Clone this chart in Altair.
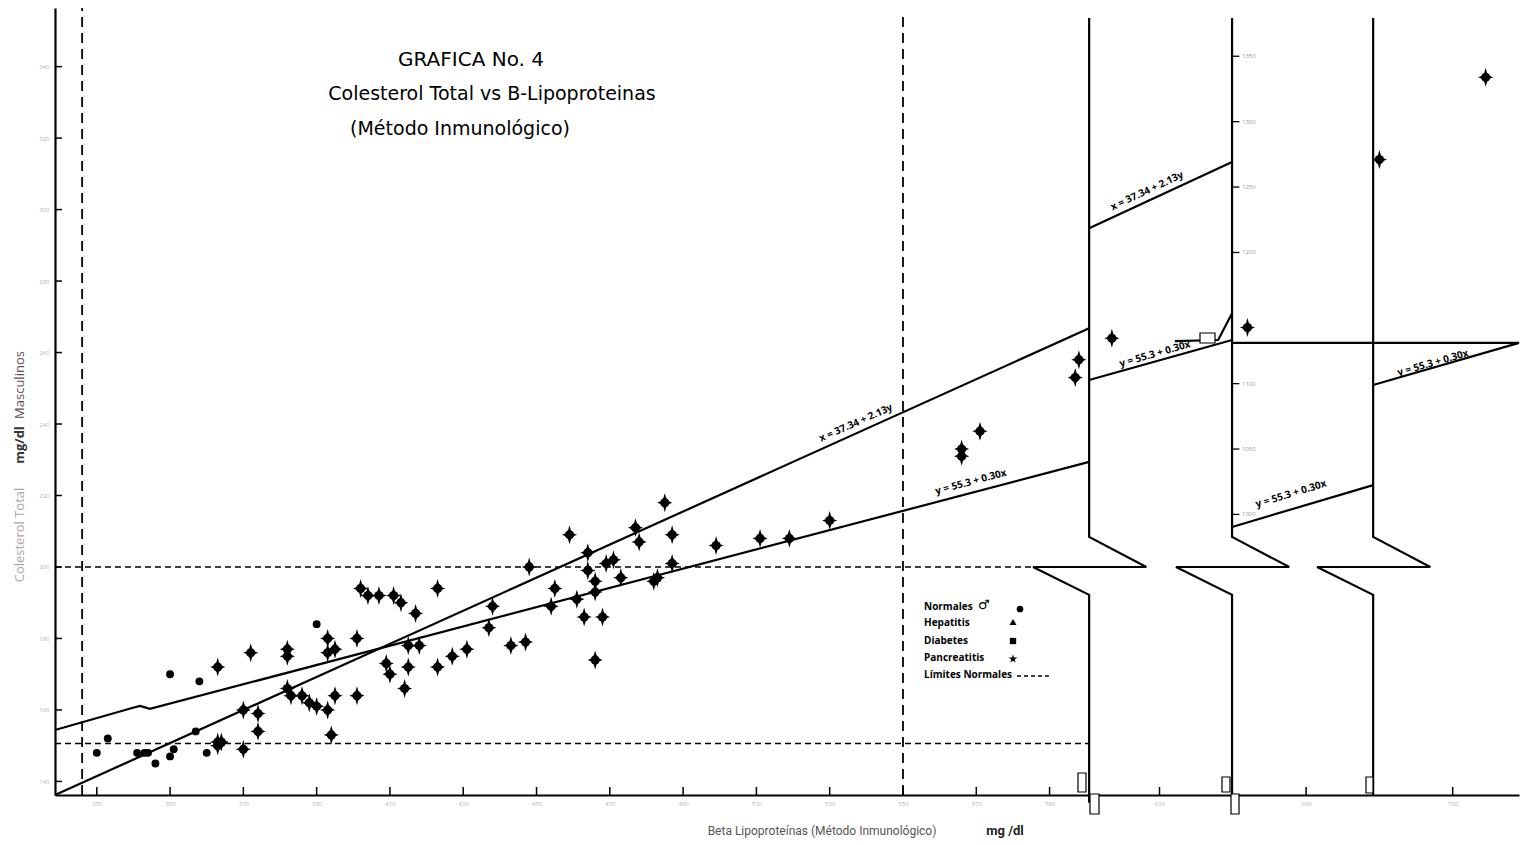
import altair as alt
import pandas as pd

# ---------------- data ----------------
# Beta-lipoproteinas (mg/dl) and Colesterol total (mg/dl)
beta = [330, 333, 341, 343, 344, 346, 350, 351, 357, 360, 363, 364, 363, 370, 370, 374, 374,
        350, 358, 363, 372, 382, 382, 390, 393, 393, 395, 382, 383, 386, 388, 390, 393, 395,
        394, 401, 401, 402, 404, 407, 411, 413, 417, 423, 409, 410, 415, 418, 415, 414, 423,
        427, 431, 438, 437, 443, 447, 448, 454, 455, 459, 461, 464, 464, 463, 466, 466, 468,
        466, 469, 471, 473, 477, 478, 482, 483, 485, 487, 487, 499, 511, 519, 530, 566, 566,
        571, 597, 598, 607, 644, 680, 709]
chol = [148, 152, 148, 148, 148, 145, 147, 149, 154, 148, 151, 151, 150, 160, 149, 159, 154,
        170, 168, 172, 176, 177, 175, 184, 180, 176, 177, 166, 164, 164, 162, 161, 160, 164,
        153, 164, 180, 194, 192, 192, 192, 190, 187, 194, 173, 170, 178, 178, 172, 166, 172,
        175, 177, 189, 183, 178, 179, 200, 189, 194, 209, 191, 204, 199, 186, 196, 193, 186,
        174, 201, 202, 197, 211, 207, 196, 197, 218, 209, 201, 206, 208, 208, 213, 233, 231,
        238, 253, 258, 264, 267, 314, 337]
grupo = ["N"] * 10 + ["P"] * 7 + ["N", "N"] + ["P"] * 4 + ["N"] + ["P"] * 68

# solid lines (regression lines, broken axes, break marks)
seg_id = (["A"] * 2 + ["B"] * 5 + ["C"] * 2 + ["D"] * 2 + ["E"] * 2 + ["F"] * 3 + ["G"] * 3
          + ["V1"] * 6 + ["V2"] * 6 + ["V3"] * 6)
seg_x = [318.6, 600.8,
         318.6, 339.9, 341.8, 344.5, 600.8,
         600.8, 639.8,
         600.8, 639.8,
         639.8, 678.3,
         639.8, 718.1, 678.3,
         639.8, 636.0, 624.2,
         600.8, 600.8, 616.4, 585.5, 600.8, 600.8,
         639.8, 639.8, 655.4, 624.5, 639.8, 639.8,
         678.3, 678.3, 693.9, 663.0, 678.3, 678.3]
seg_y = [136.2, 266.8,
         154.4, 160.6, 161.1, 160.3, 229.4,
         294.8, 313.3,
         252.3, 263.5,
         211.2, 222.9,
         262.7, 262.7, 250.9,
         271.0, 263.5, 263.2,
         353.6, 208.4, 200.0, 200.0, 192.2, 134.0,
         353.6, 208.4, 200.0, 200.0, 192.2, 134.0,
         353.6, 208.4, 200.0, 200.0, 192.2, 136.2]

# dashed normal limits
vdash_id = ["v1", "v1", "v2", "v2"]
vdash_x = [326.0, 326.0, 550.0, 550.0]
vdash_y = [136.2, 356.4, 136.2, 354.5]
hdash_id = ["h1", "h1", "h2", "h2"]
hdash_x = [318.6, 585.5, 318.6, 600.8]
hdash_y = [200.0, 200.0, 150.6, 150.6]

# axis ticks
y_ticks = [140, 160, 180, 200, 220, 240, 260, 280, 300, 320, 340]
x_ticks = [330, 350, 370, 390, 410, 430, 450, 470, 490, 510, 530, 550, 570, 590, 620, 660, 700]
sub_tick_y = [342.9, 324.6, 306.3, 288.0, 251.3, 233.0, 214.7]
sub_tick_lab = ["1350", "1300", "1250", "1200", "1100", "1050", "1000"]

# regression labels
eq_text = ["x = 37.34 + 2.13y", "y = 55.3 + 0.30x", "x = 37.34 + 2.13y",
           "y = 55.3 + 0.30x", "y = 55.3 + 0.30x", "y = 55.3 + 0.30x"]
eq_px = [801, 916, 1092, 1100, 1236, 1378]
eq_py = [415, 474, 183, 346, 486, 355]
eq_ang = [336, 345, 335, 344, 343, 344]

legend_lab = ["Normales", "Hepatitis", "Diabetes", "Pancreatitis", "Límites Normales"]

# small label boxes at the axis breaks (pixel boxes, decoration)
box_x = [1023, 1035, 1167, 1176, 1311, 1145]
box_x2 = [1031, 1044, 1175, 1184, 1318, 1160]
box_y = [765, 786, 769, 786, 769, 325]
box_y2 = [784, 806, 784, 806, 785, 335]

# ---------------- chart ----------------
XD = [318.6, 718.1]
YD = [136.2, 356.4]
xs = alt.Scale(domain=XD, nice=False, zero=False)
ys = alt.Scale(domain=YD, nice=False, zero=False)
FONT = "Open Sans"
TFONT = "DejaVu Sans"

pts = pd.DataFrame({"beta": beta, "chol": chol, "g": grupo})
segs = pd.DataFrame({"id": seg_id, "x": seg_x, "y": seg_y, "i": range(len(seg_x))})
vd = pd.DataFrame({"id": vdash_id, "x": vdash_x, "y": vdash_y, "i": range(len(vdash_x))})
hd = pd.DataFrame({"id": hdash_id, "x": hdash_x, "y": hdash_y, "i": range(len(hdash_x))})

xaxis = alt.Axis(values=x_ticks, ticks=False, labelFontSize=6, labelColor="#b5b5b5",
                 domainColor="black", domainWidth=2.2, grid=False, title=None,
                 labelPadding=5, labelFont=FONT)
yaxis = alt.Axis(values=y_ticks, ticks=False, labelFontSize=6, labelColor="#b5b5b5",
                 domainColor="black", domainWidth=2.2, grid=False, title=None,
                 labelPadding=6, labelFont=FONT)

base_axes = alt.Chart(pd.DataFrame({"x": [XD[0]], "y": [YD[0]]})).mark_point(opacity=0).encode(
    x=alt.X("x:Q", scale=xs, axis=xaxis), y=alt.Y("y:Q", scale=ys, axis=yaxis))

ytick = alt.Chart(pd.DataFrame({"v": y_ticks})).mark_rule(color="black", strokeWidth=1.5).encode(
    y=alt.Y("v:Q", scale=ys), x=alt.value(0), x2=alt.value(7))
xtick = alt.Chart(pd.DataFrame({"v": x_ticks})).mark_rule(color="black", strokeWidth=1.5).encode(
    x=alt.X("v:Q", scale=xs), y=alt.value(787), y2=alt.value(779))

subtick = alt.Chart(pd.DataFrame({"v": sub_tick_y, "x": [639.8] * 7, "x2": [641.8] * 7})).mark_rule(
    color="black", strokeWidth=1.3).encode(
    y=alt.Y("v:Q", scale=ys), x=alt.X("x:Q", scale=xs), x2="x2:Q")
sublab = alt.Chart(pd.DataFrame({"v": sub_tick_y, "x": [642.5] * 7, "t": sub_tick_lab})).mark_text(
    align="left", fontSize=6, color="#9a9a9a", font=FONT).encode(
    y=alt.Y("v:Q", scale=ys), x=alt.X("x:Q", scale=xs), text="t:N")

solid = alt.Chart(segs).mark_line(color="black", strokeWidth=2.2).encode(
    x=alt.X("x:Q", scale=xs), y=alt.Y("y:Q", scale=ys), detail="id:N", order="i:Q")
vdashed = alt.Chart(vd).mark_line(color="black", strokeWidth=1.8, strokeDash=[10, 6]).encode(
    x=alt.X("x:Q", scale=xs), y=alt.Y("y:Q", scale=ys), detail="id:N", order="i:Q")
hdashed = alt.Chart(hd).mark_line(color="black", strokeWidth=1.6, strokeDash=[6, 4]).encode(
    x=alt.X("x:Q", scale=xs), y=alt.Y("y:Q", scale=ys), detail="id:N", order="i:Q")

boxes = alt.Chart(pd.DataFrame({"x": box_x, "x2": box_x2, "y": box_y, "y2": box_y2})).mark_rect(
    fill="white", stroke="black", strokeWidth=1.2).encode(
    x=alt.X("x:Q", scale=None), x2="x2:Q", y=alt.Y("y:Q", scale=None), y2="y2:Q")

SPIKE = "M0,-1L0.22,-0.22L0.8,0L0.22,0.22L0,1L-0.22,0.22L-0.8,0L-0.22,-0.22Z"
STAR5 = ("M0,-1L0.235,-0.324L0.951,-0.309L0.38,0.124L0.588,0.809L0,0.4L-0.588,0.809"
         "L-0.38,0.124L-0.951,-0.309L-0.235,-0.324Z")
pan = pts[pts.g == "P"]
stars_spike = alt.Chart(pan).mark_point(shape=SPIKE, filled=True, color="black",
                                        size=360, opacity=1).encode(
    x=alt.X("beta:Q", scale=xs), y=alt.Y("chol:Q", scale=ys))
stars_core = alt.Chart(pan).mark_point(shape="circle", filled=True, color="black",
                                       size=85, opacity=1).encode(
    x=alt.X("beta:Q", scale=xs), y=alt.Y("chol:Q", scale=ys))
dots = alt.Chart(pts[pts.g == "N"]).mark_point(shape="circle", filled=True, color="black",
                                               size=62, opacity=1).encode(
    x=alt.X("beta:Q", scale=xs), y=alt.Y("chol:Q", scale=ys))

eqs = alt.Chart(pd.DataFrame({"t": eq_text, "px": eq_px, "py": eq_py, "a": eq_ang})).mark_text(
    fontSize=10, fontWeight="bold", font=FONT, color="black").encode(
    x=alt.X("px:Q", scale=None), y=alt.Y("py:Q", scale=None), text="t:N",
    angle=alt.Angle("a:Q", scale=None))

# legend
leg = pd.DataFrame({"t": legend_lab, "py": [599, 615, 633, 650, 667]})
leg_txt = alt.Chart(leg).mark_text(align="left", fontSize=10, fontWeight="bold", font=FONT,
                                   color="black").encode(
    x=alt.value(869), y=alt.Y("py:Q", scale=None), text="t:N")
leg_sym = pd.DataFrame({"px": [965, 958, 958, 958], "py": [601, 614, 633, 651],
                        "s": ["circle", "triangle-up", "square", STAR5],
                        "z": [45, 50, 40, 80]})
leg_syms = alt.Chart(leg_sym).mark_point(filled=True, color="black", opacity=1).encode(
    x=alt.X("px:Q", scale=None), y=alt.Y("py:Q", scale=None),
    shape=alt.Shape("s:N", scale=None), size=alt.Size("z:Q", scale=None))
leg_dash = alt.Chart(pd.DataFrame({"a": [1]})).mark_rule(color="black", strokeWidth=1.5,
                                                          strokeDash=[4, 3]).encode(
    x=alt.value(962), x2=alt.value(997), y=alt.value(668))


def label(txt, x, y, size, color, weight="normal", angle=0, font=FONT, align="center"):
    return alt.Chart(pd.DataFrame({"t": [txt]})).mark_text(
        fontSize=size, font=font, color=color, fontWeight=weight, angle=angle,
        align=align).encode(x=alt.value(x), y=alt.value(y), text="t:N")


male = label("♂", 923, 597, 13, "black", "bold", font=TFONT, align="left")

titles = [label("GRAFICA No. 4", 416, 52, 20, "black", font=TFONT),
          label("Colesterol Total vs B-Lipoproteinas", 437, 86, 19, "black", font=TFONT),
          label("(Método Inmunológico)", 405, 121, 19, "black", font=TFONT)]

ytitle = [label("Colesterol Total", -35, 527, 13, "#a8a8a8", angle=270),
          label("mg/dl", -35, 437, 13, "#333333", "bold", 270),
          label("Masculinos", -35, 377, 13, "#555555", angle=270)]
xtitle = [label("Beta Lipoproteínas (Método Inmunológico)", 767, 823, 12, "#555555", font="Roboto"),
          label("mg /dl", 950, 823, 13, "#222222", "bold", font="Roboto")]

chart = alt.layer(base_axes, vdashed, hdashed, solid, boxes, ytick, xtick, subtick, sublab,
                  stars_spike, stars_core, dots, eqs, leg_txt, male, leg_syms, leg_dash, *titles,
                  *ytitle, *xtitle).properties(
    width=1464, height=787,
    autosize=alt.AutoSizeParams(type="none"),
    padding={"left": 55, "top": 8, "right": 12, "bottom": 50},
    background="white",
).configure_view(stroke=None)

chart.save("out.html", embed_options={"renderer": "svg", "actions": False})
